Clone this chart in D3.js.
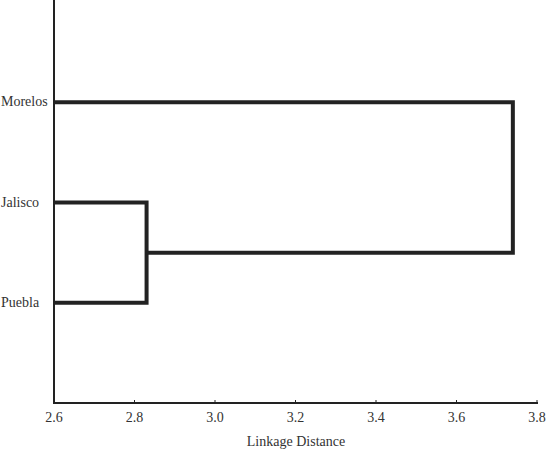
<!DOCTYPE html>
<html><head><meta charset="utf-8">
<script src="https://cdn.jsdelivr.net/npm/d3@7"></script>
<style>body{margin:0;background:#fff}</style>
</head><body>
<svg id="c" width="547" height="454" font-family="'Liberation Serif', 'DejaVu Serif', serif"></svg>
<script>
const leaves = ["Morelos","Jalisco","Puebla"];
const merges = [{a:"Jalisco", b:"Puebla", d:2.83}, {a:"Morelos", b:"m0", d:3.74}];
const xTicks = [2.6,2.8,3.0,3.2,3.4,3.6,3.8];
const xMin = 2.6;

const svg = d3.select("#c");
const x = d3.scaleLinear().domain([2.6,3.8]).range([54,537]);
const y = d3.scalePoint().domain(["top",...leaves,"bot"]).range([2,403]);
const F = "'Liberation Serif', 'DejaVu Serif', serif";

svg.append("line").attr("x1",54).attr("x2",54).attr("y1",0).attr("y2",403).attr("stroke","#222").attr("stroke-width",2);
svg.append("line").attr("x1",53).attr("x2",538).attr("y1",403).attr("y2",403).attr("stroke","#222").attr("stroke-width",2);
xTicks.forEach(t=>{
  svg.append("line").attr("x1",x(t)).attr("x2",x(t)).attr("y1",403).attr("y2",400).attr("stroke","#222");
  svg.append("text").attr("font-family",F).attr("x",x(t)).attr("y",422).attr("text-anchor","middle").attr("font-size",14).attr("fill","#333").text(t.toFixed(1));
});
svg.append("text").attr("font-family",F).attr("x",296).attr("y",446).attr("text-anchor","middle").attr("font-size",14).attr("fill","#333").text("Linkage Distance");
leaves.forEach(l=>{
  svg.append("text").attr("font-family",F).attr("x",1).attr("y",y(l)+4).attr("font-size",14).attr("fill","#333").text(l);
});

const pos = {}; leaves.forEach(l=>pos[l]={x:x(xMin),y:y(l)});
const g = svg.append("g").attr("fill","none").attr("stroke","#222").attr("stroke-width",4);
merges.forEach((m,i)=>{
  const A=pos[m.a], B=pos[m.b], xm=x(m.d);
  g.append("path").attr("d",`M${A.x},${A.y}H${xm}V${B.y}H${B.x}`);
  pos["m"+i]={x:xm,y:(A.y+B.y)/2};
});
</script>
</body></html>
